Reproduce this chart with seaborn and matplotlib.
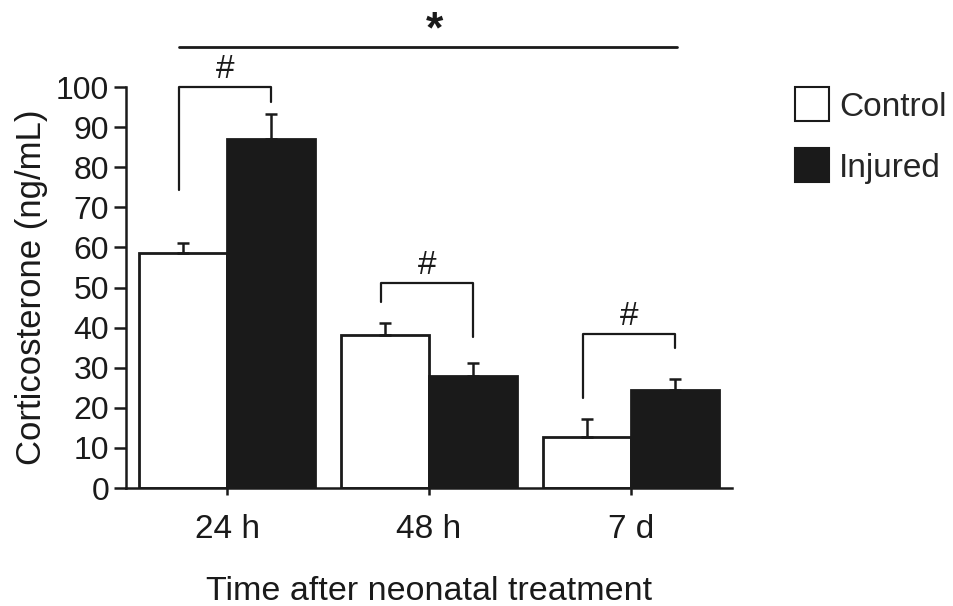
import matplotlib
matplotlib.use("Agg")
import matplotlib.pyplot as plt
from matplotlib.lines import Line2D
import seaborn as sns
import pandas as pd
import numpy as np

# ---- data ----
categories = ["24 h", "48 h", "7 d"]
groups = ["Control", "Injured"]
control_mean = [58.6, 38.2, 12.6]
control_err = [2.6, 2.9, 4.6]
injured_mean = [87.0, 27.9, 24.4]
injured_err = [6.3, 3.3, 2.8]
y_ticks = [0, 10, 20, 30, 40, 50, 60, 70, 80, 90, 100]
# bracket (top, left-leg bottom, right-leg bottom) per category
bracket_top = [100.0, 51.1, 38.4]
bracket_left_bottom = [74.3, 46.4, 22.4]
bracket_right_bottom = [96.3, 37.7, 34.9]
star_line_y = 110.0

sns.set_theme(style="white")
plt.rcParams["font.family"] = ["Liberation Sans", "DejaVu Sans"]

df = pd.DataFrame({
    "time": categories * 2,
    "group": [groups[0]] * 3 + [groups[1]] * 3,
    "value": control_mean + injured_mean,
})

fig = plt.figure(figsize=(9.54, 6.06), dpi=100)
ax = fig.add_axes([0.1321, 0.1947, 0.6352, 0.6617])

sns.barplot(data=df, x="time", y="value", hue="group", order=categories,
            hue_order=groups, palette={"Control": "white", "Injured": "#1a1a1a"},
            edgecolor="#1a1a1a", linewidth=2.0, width=0.87, errorbar=None,
            legend=False, ax=ax, saturation=1)

# error bars (upper only) from bar patches
bars = [p for p in ax.patches if p.get_height() > 0]
bars_sorted = sorted(bars, key=lambda p: p.get_x())
ctrl_bars = [b for b in bars_sorted if b.get_facecolor()[0] > 0.5]
inj_bars = [b for b in bars_sorted if b.get_facecolor()[0] <= 0.5]
cx = [b.get_x() + b.get_width() / 2 for b in ctrl_bars]
ix = [b.get_x() + b.get_width() / 2 for b in inj_bars]
for xs, means, errs in [(cx, control_mean, control_err), (ix, injured_mean, injured_err)]:
    ax.errorbar(xs, means, yerr=[np.zeros(len(errs)), errs], fmt="none",
                ecolor="#1a1a1a", elinewidth=1.8, capsize=4.5, capthick=1.8,
                zorder=1)

ax.set_xlim(-0.5, 2.5)
ax.set_ylim(0, 100)
ax.set_yticks(y_ticks)
ax.set_yticklabels([str(t) for t in y_ticks])

for s in ["top", "right"]:
    ax.spines[s].set_visible(False)
for s in ["left", "bottom"]:
    ax.spines[s].set_color("#1a1a1a")
    ax.spines[s].set_linewidth(1.8)

ax.tick_params(axis="y", direction="out", length=9, width=1.8, color="#1a1a1a",
               labelsize=23, pad=3, left=True, labelcolor="#1a1a1a")
ax.tick_params(axis="x", direction="out", length=5, width=1.8, color="#1a1a1a",
               labelsize=24, pad=14, bottom=True, labelcolor="#1a1a1a")

ax.set_xlabel("Time after neonatal treatment", fontsize=24.5, labelpad=22, color="#1a1a1a")
ax.set_ylabel("Corticosterone (ng/mL)", fontsize=25, labelpad=6, color="#1a1a1a")

# significance brackets
for i in range(3):
    xl, xr = cx[i] - 0.02, ix[i]
    ax.plot([xl, xl, xr, xr],
            [bracket_left_bottom[i], bracket_top[i], bracket_top[i], bracket_right_bottom[i]],
            color="#1a1a1a", lw=1.6, clip_on=False)
    ax.text((xl + xr) / 2, bracket_top[i] + 0.5, "#", ha="center", va="bottom",
            fontsize=24, color="#1a1a1a", clip_on=False)

x0, x1 = cx[0] - 0.02, ix[2] + 0.01
ax.plot([x0, x1], [star_line_y, star_line_y], color="#1a1a1a",
        lw=2.0, clip_on=False)
ax.text((x0 + x1) / 2 + 0.03, star_line_y - 1.2, "*", ha="center",
        va="bottom", fontsize=32, fontweight="bold", color="#1a1a1a", clip_on=False)

handles = [
    Line2D([], [], marker="s", linestyle="none", markersize=24,
           markerfacecolor="white", markeredgecolor="#1a1a1a", markeredgewidth=1.5),
    Line2D([], [], marker="s", linestyle="none", markersize=24,
           markerfacecolor="#1a1a1a", markeredgecolor="#1a1a1a", markeredgewidth=1.5),
]
fig.legend(handles, groups, loc="upper left", bbox_to_anchor=(0.82, 0.87),
           frameon=False, fontsize=24, handletextpad=0.3, labelspacing=0.9,
           borderaxespad=0, handlelength=1.0)

fig.savefig("out.png", dpi=100)
